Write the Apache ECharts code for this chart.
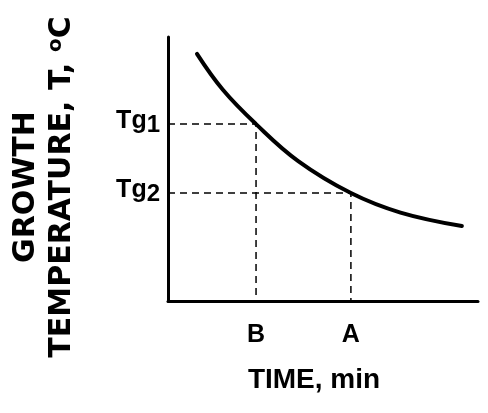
<!DOCTYPE html>
<html>
<head>
<meta charset="utf-8">
<script src="https://cdn.jsdelivr.net/npm/echarts@6/dist/echarts.min.js"></script>
<style>html,body{margin:0;padding:0;background:#fff}#c{width:488px;height:413px}</style>
</head>
<body>
<div id="c"></div>
<script>
// Curve: growth temperature vs time (schematic units)
const curveTime = [0.935, 1.77, 2.84, 4.2, 5.90, 7.5, 9.48];
const curveTemp = [9.36, 8.0, 6.70, 5.30, 4.09, 3.35, 2.84];
// Marked points
const markTimes = [2.84, 5.90];
const markTimeLabels = ['B', 'A'];
const markTemps = [6.70, 4.09];
const markTempLabels = ['Tg1', 'Tg2'];

function nearestLabel(v, vals, labels) {
  let best = 0;
  for (let i = 1; i < vals.length; i++) if (Math.abs(vals[i] - v) < Math.abs(vals[best] - v)) best = i;
  return labels[best];
}

const chart = echarts.init(document.getElementById('c'), null, {renderer: 'canvas'});
const curveData = curveTime.map((t, i) => [t, curveTemp[i]]);
const guideSeries = markTimes.map((t, i) => ({
  type: 'line',
  data: [[0, markTemps[i]], [t, markTemps[i]], [t, 0]],
  symbol: 'none',
  silent: true,
  lineStyle: {color: '#000', width: 1.5, type: [7, 5]},
  z: 1
}));

chart.setOption({
  animation: false,
  backgroundColor: '#fff',
  grid: {left: 168, right: 10, top: 37, bottom: 112, containLabel: false, outerBoundsMode: 'none'},
  xAxis: {
    type: 'value', min: 0, max: 10,
    name: 'TIME, min', nameLocation: 'middle', nameGap: 65,
    nameTextStyle: {fontFamily: 'Liberation Sans', fontWeight: 'bold', fontSize: 28, color: '#000', padding: [0, 18, 0, 0]},
    axisLine: {show: true, lineStyle: {color: '#000', width: 3}},
    axisTick: {show: false},
    splitLine: {show: false},
    axisLabel: {
      customValues: markTimes,
      formatter: v => nearestLabel(v, markTimes, markTimeLabels),
      fontFamily: 'Liberation Sans', fontWeight: 'bold', fontSize: 25, color: '#000', margin: 22
    }
  },
  yAxis: {
    type: 'value', min: 0, max: 10,
    name: 'GROWTH\nTEMPERATURE, T, {sup|o}C', nameLocation: 'middle', nameGap: 88, nameRotate: 90,
    nameTextStyle: {
      fontFamily: 'DejaVu Sans', fontWeight: 'bold', fontSize: 30, color: '#000', lineHeight: 36,
      padding: [0, 36, 0, 0],
      rich: {sup: {fontFamily: 'DejaVu Sans', fontWeight: 'bold', fontSize: 20, color: '#000', lineHeight: 36, padding: [0, 0, 12, 0]}}
    },
    axisLine: {show: true, lineStyle: {color: '#000', width: 3}},
    axisTick: {show: false},
    splitLine: {show: false},
    axisLabel: {
      customValues: markTemps,
      formatter: v => {
        const s = nearestLabel(v, markTemps, markTempLabels);
        return s.slice(0, 2) + '{sub|' + s.slice(2) + '}';
      },
      fontFamily: 'Liberation Sans', fontWeight: 'bold', fontSize: 25, color: '#000', margin: 8,
      padding: [0, 0, 6, 0],
      rich: {sub: {fontFamily: 'Liberation Sans', fontWeight: 'bold', fontSize: 24, color: '#000', padding: [8, 0, 0, 0]}}
    }
  },
  series: guideSeries.concat([{
    type: 'line',
    data: curveData,
    symbol: 'none',
    smooth: 0.4,
    lineStyle: {color: '#000', width: 4, cap: 'round'},
    z: 3
  }])
});
</script>
</body>
</html>
